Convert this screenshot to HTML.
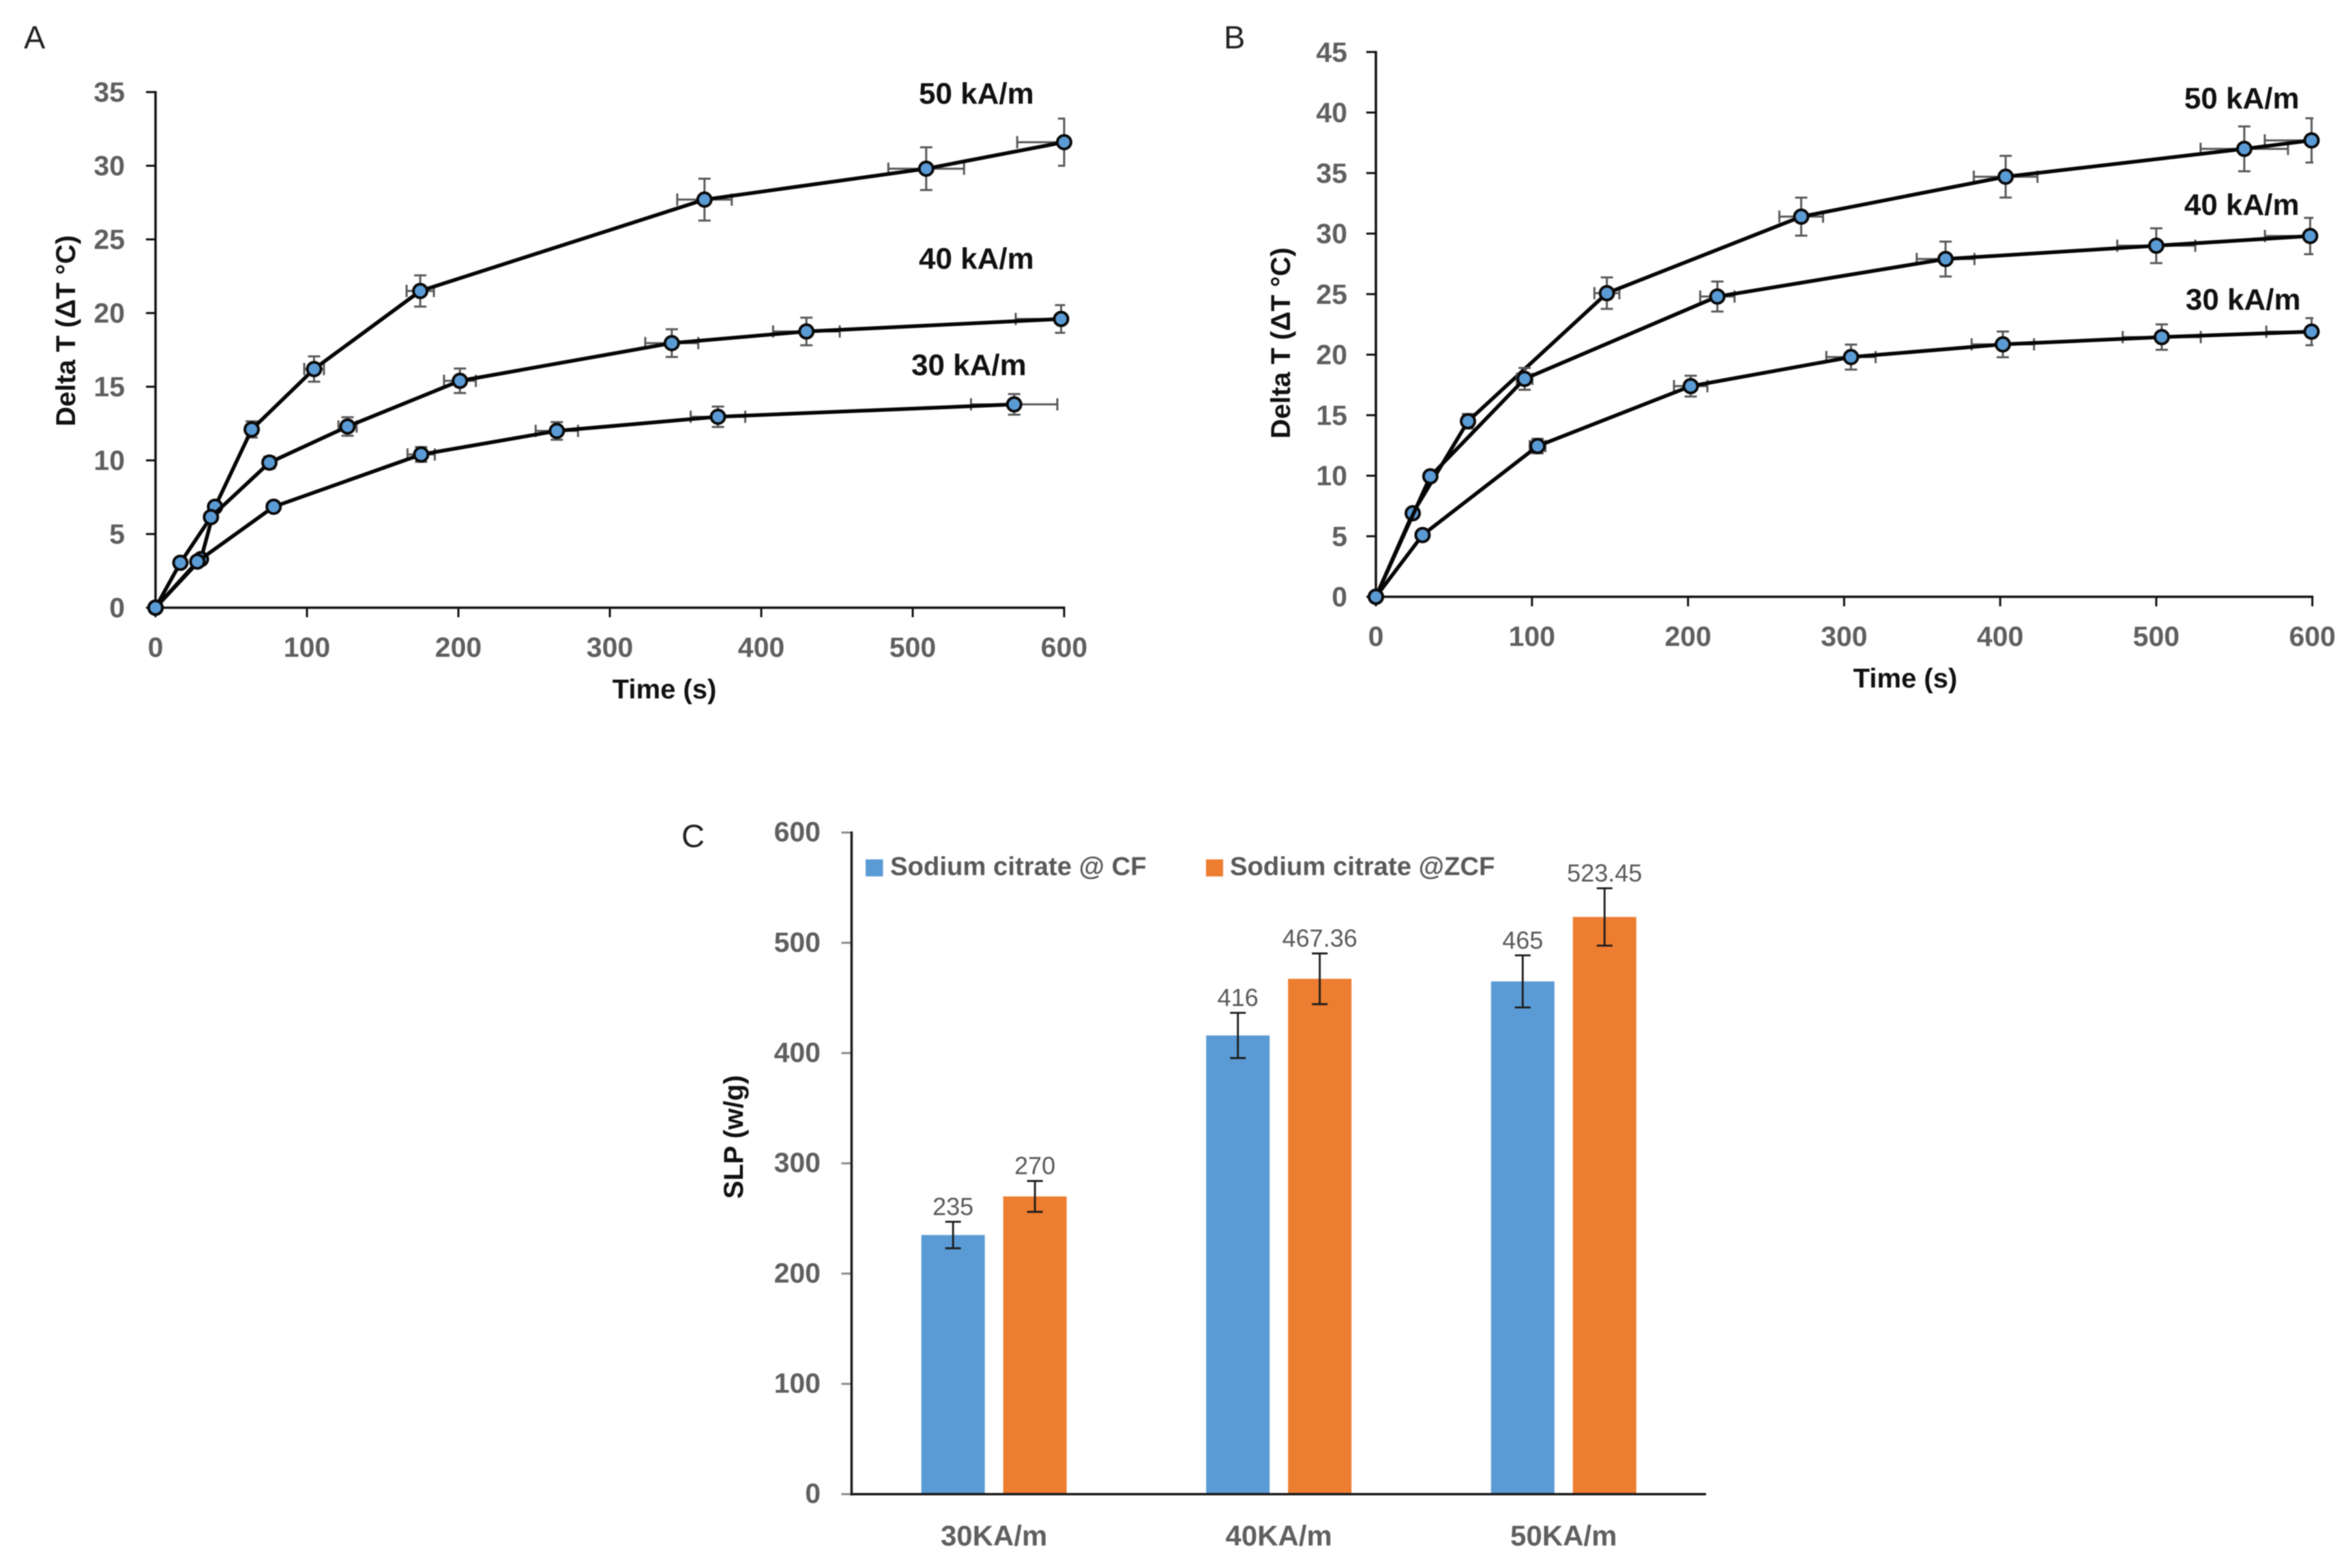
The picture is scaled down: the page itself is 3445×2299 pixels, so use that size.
<!DOCTYPE html>
<html lang="en">
<head>
<meta charset="utf-8">
<title>Delta T heating curves and SLP bars</title>
<style>
html,body{margin:0;padding:0;background:#fff;width:3445px;height:2299px;overflow:hidden}
svg{display:block;filter:blur(0.9px)}
text{font-family:"Liberation Sans",Arial,sans-serif}
.tick{font-size:41px;font-weight:bold;fill:#5f5f5f}
.title{font-size:40px;font-weight:bold;fill:#111}
.series{font-size:44px;font-weight:bold;fill:#111}
.panel{font-size:47px;fill:#222}
.legend{font-size:38.3px;font-weight:bold;fill:#595959}
.value{font-size:36px;fill:#595959}
</style>
</head>
<body>
<svg id="figure" xmlns="http://www.w3.org/2000/svg" width="3445" height="2299" viewBox="0 0 3445 2299">
  <rect x="0" y="0" width="3445" height="2299" fill="#ffffff"/>

  <g id="panel-a">
    <text class="panel" x="35" y="71">A</text>
    <text class="title" x="974" y="1024" text-anchor="middle">Time (s)</text>
    <text class="title" transform="translate(110 485) rotate(-90)" text-anchor="middle">Delta T (ΔT °C)</text>
  </g>

  <g id="panel-b">
    <text class="panel" x="1794" y="71">B</text>
    <text class="title" x="2793" y="1008" text-anchor="middle">Time (s)</text>
    <text class="title" transform="translate(1891 503) rotate(-90)" text-anchor="middle">Delta T (ΔT °C)</text>
  </g>

  <g id="panel-c">
    <text class="panel" x="999" y="1242">C</text>
    <text class="title" transform="translate(1089 1667) rotate(-90)" text-anchor="middle">SLP (w/g)</text>
  </g>
</svg>

<script>
// ---------- Panel A data ----------
var aTicksX = [0, 100, 200, 300, 400, 500, 600];
var aTicksY = [0, 5, 10, 15, 20, 25, 30, 35];

var aTime50 = [0, 30, 39.3, 63.5, 104.7, 174.8, 362.5, 508.9, 600];
var aTemp50 = [0, 3.3, 6.85, 12.1, 16.2, 21.5, 27.7, 29.8, 31.6];
var aXerr50 = [0, 0, 0, 3, 6.5, 9, 18, 25, 31];
var aYerr50 = [0, 0, 0, 0.55, 0.86, 1.06, 1.42, 1.45, 1.6];

var aTime40 = [0, 16.4, 36.6, 75.2, 126.8, 201, 340.9, 429.8, 598];
var aTemp40 = [0, 3.05, 6.15, 9.85, 12.3, 15.4, 17.96, 18.75, 19.6];
var aXerr40 = [0, 0, 0, 3, 6, 10.5, 17.5, 22, 30];
var aYerr40 = [0, 0, 0, 0.4, 0.63, 0.83, 0.94, 0.94, 0.94];

var aTime30 = [0, 27.6, 78, 175.4, 265, 371.4, 567];
var aTemp30 = [0, 3.13, 6.85, 10.4, 12.0, 12.96, 13.8];
var aXerr30 = [0, 0, 0, 9, 14, 18, 28.5];
var aYerr30 = [0, 0, 0, 0.5, 0.6, 0.69, 0.7];

// ---------- Panel B data ----------
var bTicksX = [0, 100, 200, 300, 400, 500, 600];
var bTicksY = [0, 5, 10, 15, 20, 25, 30, 35, 40, 45];

var bTime50 = [0, 23.6, 59, 148, 272.5, 403.5, 556.4, 599.5];
var bTemp50 = [0, 6.9, 14.5, 25.08, 31.4, 34.7, 37, 37.7];
var bXerr50 = [0, 0, 3, 8, 14, 20.4, 28, 30];
var bYerr50 = [0, 0, 0.6, 1.3, 1.57, 1.72, 1.85, 1.83];

var bTime40 = [0, 34.9, 95.3, 218.8, 365, 500, 598.6];
var bTemp40 = [0, 9.95, 18, 24.8, 27.9, 29, 29.8];
var bXerr40 = [0, 0, 5, 11, 18.5, 25, 29];
var bYerr40 = [0, 0, 0.9, 1.24, 1.44, 1.44, 1.5];

var bTime30 = [0, 29.9, 103.6, 201.7, 304.4, 401.7, 503.5, 599.5];
var bTemp30 = [0, 5.1, 12.45, 17.4, 19.8, 20.85, 21.45, 21.9];
var bXerr30 = [0, 0, 5, 10.7, 15.8, 20, 25, 29];
var bYerr30 = [0, 0, 0.6, 0.86, 1.03, 1.06, 1.05, 1.12];

// ---------- Panel C data ----------
var cCategories = ['30KA/m', '40KA/m', '50KA/m'];
var cTicksY = [0, 100, 200, 300, 400, 500, 600];
var cSeriesNames = ['Sodium citrate @ CF', 'Sodium citrate @ZCF'];
var cValuesCF = [235, 416, 465];
var cValuesZCF = [270, 467.36, 523.45];
var cErrorsCF = [12, 20.5, 23.6];
var cErrorsZCF = [14, 23, 26];
var cLabelsCF = ['235', '416', '465'];
var cLabelsZCF = ['270', '467.36', '523.45'];

// ---------- Drawing ----------
var NS = 'http://www.w3.org/2000/svg';

function make(parent, tag, attrs, name) {
  var el = document.createElementNS(NS, tag);
  for (var k in attrs) { el.setAttribute(k, attrs[k]); }
  
  
  parent.appendChild(el);
  return el;
}

function line(parent, x1, y1, x2, y2, color, width, name) {
  return make(parent, 'line', {x1: x1, y1: y1, x2: x2, y2: y2, stroke: color, 'stroke-width': width}, name);
}

function label(parent, x, y, text, cls, anchor, name) {
  var el = make(parent, 'text', {x: x, y: y, 'class': cls, 'text-anchor': anchor}, name);
  el.textContent = text;
  return el;
}

function drawAxes(parent, p, ticksX, ticksY) {
  var prefix = p.id + '-';
  var g = make(parent, 'g', {}, prefix + 'axes');
  line(g, p.x(0), p.y(ticksY[ticksY.length - 1]) - 1.5, p.x(0), p.y(0) + 2, '#111', 3.5, prefix + 'y-axis-line');
  line(g, p.x(0), p.y(0), p.x(ticksX[ticksX.length - 1]) + 1.5, p.y(0), '#111', 3.5, prefix + 'x-axis-line');
  ticksY.forEach(function (v) {
    line(g, p.x(0) - 14, p.y(v), p.x(0), p.y(v), '#111', 3, prefix + 'y-tick-' + v);
    label(g, p.x(0) - p.yLabelGap, p.y(v) + 14, String(v), 'tick', 'end', prefix + 'y-tick-label-' + v);
  });
  ticksX.forEach(function (v) {
    line(g, p.x(v), p.y(0), p.x(v), p.y(0) + 14, '#111', 3, prefix + 'x-tick-' + v);
    label(g, p.x(v), p.y(0) + p.xLabelDrop, String(v), 'tick', 'middle', prefix + 'x-tick-label-' + v);
  });
}

function drawSeries(parent, p, name, times, temps, xErr, yErr) {
  var prefix = p.id + '-' + name + '-';
  var g = make(parent, 'g', {}, prefix + 'series');
  var maxX = p.maxX;
  var capH = 9, capW = 9, errColor = '#595959';
  times.forEach(function (t, i) {
    var px = p.x(t), py = p.y(temps[i]);
    if (yErr[i] > 0) {
      var top = p.y(temps[i] + yErr[i]), bot = p.y(temps[i] - yErr[i]);
      var capRight = Math.min(px + capW, p.x(maxX) + 1.5);
      line(g, px, top, px, bot, errColor, 3, prefix + 'y-error-' + i);
      line(g, px - capW, top, capRight, top, errColor, 3, prefix + 'y-error-cap-top-' + i);
      line(g, px - capW, bot, capRight, bot, errColor, 3, prefix + 'y-error-cap-bottom-' + i);
    }
    if (xErr[i] > 0) {
      var lo = t - xErr[i], hi = Math.min(t + xErr[i], maxX);
      line(g, p.x(lo), py, p.x(hi), py, errColor, 3, prefix + 'x-error-' + i);
      line(g, p.x(lo), py - capH, p.x(lo), py + capH, errColor, 3, prefix + 'x-error-cap-left-' + i);
      if (t + xErr[i] <= maxX) {
        line(g, p.x(hi), py - capH, p.x(hi), py + capH, errColor, 3, prefix + 'x-error-cap-right-' + i);
      }
    }
  });
  var pts = times.map(function (t, i) { return p.x(t) + ',' + p.y(temps[i]); }).join(' ');
  make(g, 'polyline', {points: pts, fill: 'none', stroke: '#050505', 'stroke-width': 5.5, 'stroke-linejoin': 'round'}, prefix + 'line');
  times.forEach(function (t, i) {
    make(g, 'circle', {cx: p.x(t), cy: p.y(temps[i]), r: 10, fill: '#5b9bd5', stroke: '#0a0a0a', 'stroke-width': 4}, prefix + 'point-' + i);
  });
}

// Panel A
var pA = {
  id: 'panel-a', maxX: 600, yLabelGap: 45, xLabelDrop: 72,
  x: function (v) { return 228 + v * 2.22; },
  y: function (v) { return 891 - v * 21.6; }
};
var gA = document.getElementById('panel-a');
drawAxes(gA, pA, aTicksX, aTicksY);
drawSeries(gA, pA, '50-ka-m', aTime50, aTemp50, aXerr50, aYerr50);
drawSeries(gA, pA, '40-ka-m', aTime40, aTemp40, aXerr40, aYerr40);
drawSeries(gA, pA, '30-ka-m', aTime30, aTemp30, aXerr30, aYerr30);
label(gA, 1347, 152, '50 kA/m', 'series', 'start', 'panel-a-label-50-ka-m');
label(gA, 1347, 394, '40 kA/m', 'series', 'start', 'panel-a-label-40-ka-m');
label(gA, 1336, 550, '30 kA/m', 'series', 'start', 'panel-a-label-30-ka-m');

// Panel B
var pB = {
  id: 'panel-b', maxX: 600, yLabelGap: 42, xLabelDrop: 72,
  x: function (v) { return 2017 + v * 2.288; },
  y: function (v) { return 875 - v * 17.75; }
};
var gB = document.getElementById('panel-b');
drawAxes(gB, pB, bTicksX, bTicksY);
drawSeries(gB, pB, '50-ka-m', bTime50, bTemp50, bXerr50, bYerr50);
drawSeries(gB, pB, '40-ka-m', bTime40, bTemp40, bXerr40, bYerr40);
drawSeries(gB, pB, '30-ka-m', bTime30, bTemp30, bXerr30, bYerr30);
label(gB, 3202, 159, '50 kA/m', 'series', 'start', 'panel-b-label-50-ka-m');
label(gB, 3202, 315, '40 kA/m', 'series', 'start', 'panel-b-label-40-ka-m');
label(gB, 3204, 454, '30 kA/m', 'series', 'start', 'panel-b-label-30-ka-m');

// Panel C
var gC = document.getElementById('panel-c');
var cX0 = 1248.4, cX1 = 2501, cBarW = 93, cOffset = 60;
function cY(v) { return 2190.7 - v * 1.6167; }
function cCenter(i) { return cX0 + (cX1 - cX0) * (i + 0.5) / cCategories.length; }

cTicksY.forEach(function (v) {
  line(gC, cX0 - 15, cY(v), cX0, cY(v), '#8a8a8a', 3, 'panel-c-y-tick-' + v);
  var t = label(gC, 1203, cY(v) + 13, String(v), 'tick', 'end', 'panel-c-y-tick-label-' + v);
  t.setAttribute('style', 'font-size:41px');
});

function drawBars(values, errors, labels, offset, color, name) {
  values.forEach(function (v, i) {
    var cx = cCenter(i) + offset;
    var prefix = 'panel-c-' + name + '-';
    make(gC, 'rect', {x: cx - cBarW / 2, y: cY(v), width: cBarW, height: cY(0) - cY(v), fill: color}, prefix + 'bar-' + i);
    var top = cY(v + errors[i]), bot = cY(v - errors[i]);
    line(gC, cx, top, cx, bot, '#1a1a1a', 2.8, prefix + 'error-' + i);
    line(gC, cx - 11.5, top, cx + 11.5, top, '#1a1a1a', 2.8, prefix + 'error-cap-top-' + i);
    line(gC, cx - 11.5, bot, cx + 11.5, bot, '#1a1a1a', 2.8, prefix + 'error-cap-bottom-' + i);
    label(gC, cx, top - 10, labels[i], 'value', 'middle', prefix + 'value-' + i);
  });
}
drawBars(cValuesCF, cErrorsCF, cLabelsCF, -cOffset, '#5b9bd5', 'cf');
drawBars(cValuesZCF, cErrorsZCF, cLabelsZCF, cOffset, '#ed7d31', 'zcf');

line(gC, cX0, cY(600) - 1.5, cX0, cY(0) + 2, '#1a1a1a', 3.5, 'panel-c-y-axis-line');
line(gC, cX0, cY(0), cX1, cY(0), '#1a1a1a', 3.5, 'panel-c-x-axis-line');

cCategories.forEach(function (c, i) {
  var t = label(gC, cCenter(i), 2266, c, 'tick', 'middle', 'panel-c-category-label-' + i);
  t.setAttribute('style', 'font-size:42px');
});

make(gC, 'rect', {x: 1269, y: 1260, width: 25.5, height: 25, fill: '#5b9bd5'}, 'legend-swatch-cf');
label(gC, 1305, 1283, cSeriesNames[0], 'legend', 'start', 'legend-label-cf');
make(gC, 'rect', {x: 1768, y: 1260, width: 25, height: 25, fill: '#ed7d31'}, 'legend-swatch-zcf');
label(gC, 1803, 1283, cSeriesNames[1], 'legend', 'start', 'legend-label-zcf');
</script>
</body>
</html>
